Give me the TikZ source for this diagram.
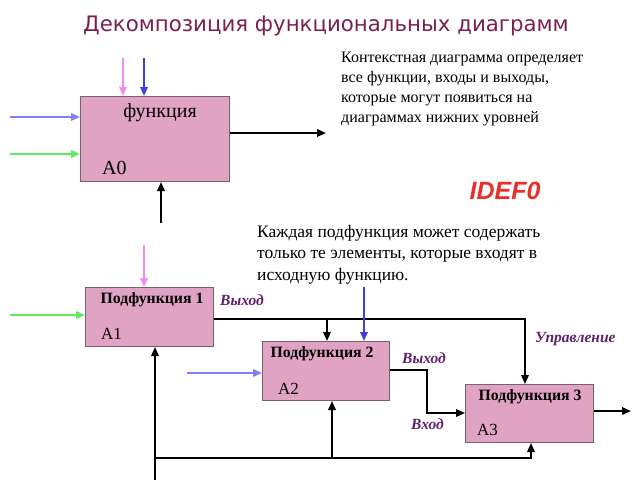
\documentclass[tikz,border=0pt]{standalone}
\usepackage{fontspec}
\setmainfont{Liberation Serif}
\newfontfamily\titlefont{DejaVu Sans}
\newfontfamily\ideffont{Liberation Sans}
\usetikzlibrary{arrows.meta}
\definecolor{boxfill}{RGB}{225,163,196}
\definecolor{boxline}{RGB}{120,96,110}
\definecolor{titlecol}{RGB}{122,32,80}
\definecolor{labcol}{RGB}{96,32,112}
\definecolor{pinkarr}{RGB}{240,140,240}
\definecolor{darkblue}{RGB}{64,64,224}
\definecolor{lightblue}{RGB}{128,128,248}
\definecolor{greenarr}{RGB}{96,235,96}
\definecolor{idefred}{RGB}{232,48,40}
\tikzset{
  fbox/.style={draw=boxline, fill=boxfill, line width=1pt, inner sep=0pt, anchor=north west},
  conn/.style={line width=1.8pt, -{Triangle[length=9pt,width=7.5pt]}},
  lab/.style={font=\fontsize{15.5}{17}\selectfont\bfseries\itshape, text=labcol, inner sep=0pt, anchor=west},
  sub/.style={font=\fontsize{15.8}{17}\selectfont\bfseries, inner sep=0pt},
  code/.style={font=\fontsize{17}{19}\selectfont, inner sep=0pt, anchor=west},
  para/.style={align=left, inner sep=0pt, anchor=north west},
}
\begin{document}
\begin{tikzpicture}[x=1pt,y=-1pt]
\useasboundingbox (0,0) rectangle (640,480);
% title
\node[font=\titlefont\fontsize{21.3}{26}\selectfont, text=titlecol, inner sep=0pt] (title) at (326,26) {Декомпозиция функциональных диаграмм};
% A0
\node[fbox, minimum width=149pt, minimum height=85pt] (a0) at (80,96) {};
\node[font=\fontsize{20}{22}\selectfont, inner sep=0pt] (a0t) at (160,113) {функция};
\node[font=\fontsize{20}{22}\selectfont, inner sep=0pt, anchor=west] (a0c) at (102,168) {A0};
\coordinate (a0p) at (123,58);
\coordinate (a0b) at (144,58);
\coordinate (a0l1) at (10,117);
\coordinate (a0l2) at (10,154);
\coordinate (a0o) at (326,133);
\coordinate (a0m) at (161,223);
\draw[conn, pinkarr] (a0p) -- (a0p |- a0.north);
\draw[conn, darkblue] (a0b) -- (a0b |- a0.north);
\draw[conn, lightblue] (a0l1) -- (a0l1 -| a0.west);
\draw[conn, greenarr] (a0l2) -- (a0l2 -| a0.west);
\draw[conn, black] (a0o -| a0.east) -- (a0o);
\draw[conn, black] (a0m) -- (a0m |- a0.south);
% texts
\node[para, font=\fontsize{16}{20}\selectfont] (txt1) at (341,52) {Контекстная диаграмма определяет\\все функции, входы и выходы,\\которые могут появиться на\\диаграммах нижних уровней};
\node[font=\ideffont\fontsize{25}{27}\selectfont\bfseries\itshape, text=idefred, inner sep=0pt] (idef) at (505,191) {IDEF0};
\node[para, font=\fontsize{17.5}{21.5}\selectfont] (txt2) at (257,225) {Каждая подфункция может содержать\\только те элементы, которые входят в\\исходную функцию.};
% boxes
\node[fbox, minimum width=128pt, minimum height=59pt] (a1) at (85,287) {};
\node[fbox, minimum width=127pt, minimum height=59pt] (a2) at (262,341) {};
\node[fbox, minimum width=128pt, minimum height=58pt] (a3) at (465,384) {};
\node[sub] (a1t) at (152,300) {Подфункция 1};
\node[code] (a1c) at (101,334) {A1};
\node[sub] (a2t) at (322,354) {Подфункция 2};
\node[code] (a2c) at (278,389) {A2};
\node[sub] (a3t) at (530,397) {Подфункция 3};
\node[code] (a3c) at (477,430) {A3};
% labels
\node[lab] (l1) at (220,300) {Выход};
\node[lab] (l2) at (402,358) {Выход};
\node[lab] (l3) at (411,424) {Вход};
\node[lab] (l4) at (535,339) {Управление};
% A1 arrows
\coordinate (p1) at (144,245);
\coordinate (g1) at (10,315);
\draw[conn, pinkarr] (p1) -- (p1 |- a1.north);
\draw[conn, greenarr] (g1) -- (g1 -| a1.west);
% A1 output
\coordinate (j1) at (525,319);
\coordinate (j2) at (327,319);
\draw[conn, black] (a1.east |- j1) -- (j1) -- (j1 |- a3.north);
\draw[conn, black] (j2) -- (j2 |- a2.north);
% A2 control and input
\coordinate (bl2) at (364,287);
\coordinate (li2) at (187,373);
\draw[conn, darkblue] (bl2) -- (bl2 |- a2.north);
\draw[conn, lightblue] (li2) -- (li2 -| a2.west);
% A2 output
\coordinate (k1) at (427,370);
\coordinate (k2) at (427,413);
\draw[conn, black] (a2.east |- k1) -- (k1) -- (k2) -- (k2 -| a3.west);
% A3 output
\coordinate (o3) at (631,411);
\draw[conn, black] (o3 -| a3.east) -- (o3);
% mechanism
\coordinate (m0) at (155,480);
\coordinate (m1) at (155,458);
\coordinate (m2) at (531,458);
\coordinate (m3) at (332,458);
\draw[conn, black] (m0) -- (m0 |- a1.south);
\draw[conn, black] (m1) -- (m2) -- (m2 |- a3.south);
\draw[conn, black] (m3) -- (m3 |- a2.south);
\end{tikzpicture}
\end{document}
